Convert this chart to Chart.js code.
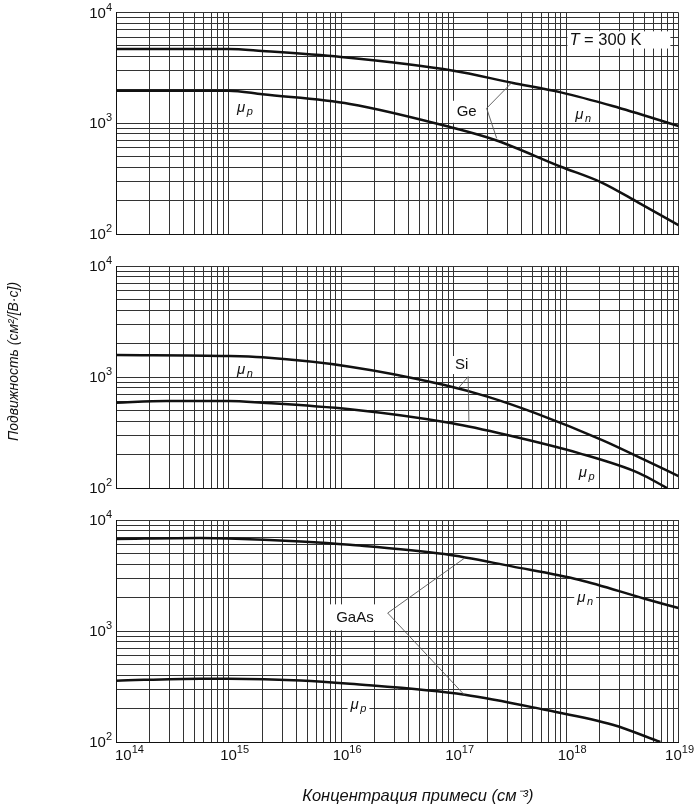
<!DOCTYPE html>
<html><head><meta charset="utf-8">
<script src="https://cdn.jsdelivr.net/npm/chart.js@4"></script>
<style>
html,body{margin:0;padding:0;background:#fff;}
body{width:695px;height:806px;position:relative;overflow:hidden;}
.panel{position:absolute;left:0;width:695px;}
</style></head><body>
<div class="panel" style="top:0;height:250px"><canvas id="c1"></canvas></div>
<div class="panel" style="top:250px;height:255px"><canvas id="c2"></canvas></div>
<div class="panel" style="top:505px;height:301px"><canvas id="c3"></canvas></div>
<script>
// ---------- data ----------
const xTickExponents = [14, 15, 16, 17, 18, 19];
const xTickLabels = ['10¹⁴', '10¹⁵', '10¹⁶', '10¹⁷', '10¹⁸', '10¹⁹'];
const yTickExponents = [2, 3, 4];
const yTickLabels = ['10²', '10³', '10⁴'];

const xTitle = 'Концентрация примеси (см⁻³)';
const yTitle = 'Подвижность (см²/[В·с])';

// Ge
const geNConc = [1e14, 1e15, 2e15, 1e16, 1e17, 3.3e17, 9e17, 2.6e18, 1e19];
const geNMob  = [4680, 4680, 4490, 3960, 2980, 2320, 1900, 1430, 944];
const gePConc = [1e14, 1e15, 2e15, 1.2e16, 9.8e16, 2.35e17, 9e17, 2.1e18, 4.4e18, 1e19];
const gePMob  = [1968, 1968, 1824, 1494, 912, 706, 405, 290, 192, 120];
// Si
const siNConc = [1e14, 1e15, 2e15, 1.2e16, 8.3e16, 2e17, 5.2e17, 2.1e18, 5e18, 1e19];
const siNMob  = [1578, 1546, 1503, 1239, 847, 665, 477, 270, 179, 128];
const siPConc = [1e14, 2.8e14, 1e15, 2e15, 1.2e16, 9.7e16, 3e17, 1.3e18, 4.4e18, 7.9e18];
const siPMob  = [587, 608, 608, 587, 512, 383, 300, 206, 137, 100];
// GaAs
const gaNConc = [1e14, 5.6e14, 1e15, 4.4e15, 1.2e16, 8.3e16, 3.3e17, 1.3e18, 5e18, 1e19];
const gaNMob  = [6745, 6890, 6830, 6410, 5985, 4940, 3820, 2900, 1955, 1610];
const gaPConc = [1e14, 5.6e14, 1e15, 4.4e15, 1.2e16, 1.26e17, 6.5e17, 2.6e18, 6.9e18];
const gaPMob  = [357, 372, 372, 359, 335, 267, 195, 143, 100];

// ---------- helpers ----------
const FONT = 'Liberation Sans, Arial, Helvetica, sans-serif';
const SUPS = '⁰¹²³⁴⁵⁶⁷⁸⁹';
function gridValues(exps) {
  const out = [];
  for (let i = 0; i < exps.length - 1; i++) {
    const base = Math.pow(10, exps[i]);
    for (let m = 1; m <= 9; m++) out.push(m * base);
  }
  out.push(Math.pow(10, exps[exps.length - 1]));
  return out;
}
const xGrid = gridValues(xTickExponents);
const yGrid = gridValues(yTickExponents);
function splitPow(label) {
  let base = '', exp = '';
  for (const ch of label) {
    const k = SUPS.indexOf(ch);
    if (k >= 0) exp += String(k); else if (ch === '⁻') exp += '-'; else base += ch;
  }
  return [base, exp];
}
function pts(xs, ys) { return xs.map((x, i) => ({x: x, y: ys[i]})); }
function MU(s) { return [['μ', 15, 'italic', 0], [s, 11, 'italic', 4]]; }
const NB = '\u00A0';

// annotations (label positions in data coordinates)
const geNotes = [
  {kind: 'leader', from: [1.97e17, 1365], to: [[3.29e17, 2323], [2.42e17, 731]]},
  {kind: 'label', x: 2.24e18, y: 5650, bg: [2, 2, 29, 2], parts: [['T', 16.5, 'italic', 0], [' = 300 K', 16.5, 'normal', 0]]},
  {kind: 'label', x: 1.31e17, y: 1270, bg: [4, 5, 4, 5], parts: [['Ge', 15, 'normal', 0]]},
  {kind: 'label', x: 1.4e15, y: 1375, parts: MU('p')},
  {kind: 'label', x: 1.42e18, y: 1186, parts: MU('n')}
];
const siNotes = [
  {kind: 'leader', from: [1.35e17, 1007], to: [[1.1e17, 791], [1.37e17, 396]]},
  {kind: 'label', x: 1.18e17, y: 1282, bg: [3, 3, 3, 3], parts: [['Si', 15, 'normal', 0]]},
  {kind: 'label', x: 1.4e15, y: 1156, parts: MU('n')},
  {kind: 'label', x: 1.53e18, y: 136, parts: MU('p')}
];
const gaNotes = [
  {kind: 'leader', from: [2.6e16, 1452], to: [[1.26e17, 4550], [1.26e17, 263]]},
  {kind: 'label', x: 1.33e16, y: 1327, bg: [9, 7, 9, 7], parts: [['GaAs', 15, 'normal', 0]]},
  {kind: 'label', x: 1.48e18, y: 1980, bg: [3, 3, 3, 3], parts: MU('n')},
  {kind: 'label', x: 1.43e16, y: 217, bg: [3, 3, 3, 3], parts: MU('p')}
];

const notesPlugin = {
  id: 'notes',
  afterDatasetsDraw(chart, args, opts) {
    const items = opts.items || [];
    const ctx = chart.ctx, xs = chart.scales.x, ys = chart.scales.y;
    ctx.save();
    for (const n of items) {
      if (n.kind !== 'leader') continue;
      const ax = xs.getPixelForValue(n.from[0]), ay = ys.getPixelForValue(n.from[1]);
      ctx.strokeStyle = '#555'; ctx.lineWidth = 0.9;
      for (const t of n.to) {
        ctx.beginPath(); ctx.moveTo(ax, ay);
        ctx.lineTo(xs.getPixelForValue(t[0]), ys.getPixelForValue(t[1]));
        ctx.stroke();
      }
    }
    for (const n of items) {
      if (n.kind !== 'label') continue;
      const cx = xs.getPixelForValue(n.x), cy = ys.getPixelForValue(n.y);
      let h = 0;
      const widths = n.parts.map((p, i) => {
        ctx.font = p[2] + ' ' + p[1] + 'px ' + FONT;
        h = Math.max(h, p[1] * 0.8);
        return ctx.measureText(p[0]).width + (i > 0 && p[3] ? 1.5 : 0);
      });
      const w = widths.reduce((a, b) => a + b, 0);
      let x0 = cx - w / 2;
      if (n.bg) {
        ctx.fillStyle = '#fff';
        ctx.fillRect(x0 - n.bg[0], cy - h / 2 - n.bg[1], w + n.bg[0] + n.bg[2], h + n.bg[1] + n.bg[3]);
      }
      ctx.fillStyle = '#111';
      ctx.textBaseline = 'middle'; ctx.textAlign = 'left';
      n.parts.forEach((p, i) => {
        ctx.font = p[2] + ' ' + p[1] + 'px ' + FONT;
        const off = (i > 0 && p[3]) ? 1.5 : 0;
        ctx.fillText(p[0], x0 + off, cy + p[3]);
        x0 += widths[i];
      });
    }
    ctx.restore();
  }
};

// draws decade tick labels ("10" with raised exponent) from the tick label arrays
const powLabelPlugin = {
  id: 'powLabels',
  afterDraw(chart, args, opts) {
    const ctx = chart.ctx, xs = chart.scales.x, ys = chart.scales.y, area = chart.chartArea;
    const bf = '15px ' + FONT, ef = '11px ' + FONT;
    ctx.save();
    ctx.fillStyle = '#111'; ctx.textBaseline = 'middle'; ctx.textAlign = 'left';
    yTickExponents.forEach((e, i) => {
      const [b, ex] = splitPow(yTickLabels[i]);
      const py = ys.getPixelForValue(Math.pow(10, e));
      ctx.font = bf; const wb = ctx.measureText(b).width;
      ctx.font = ef; const we = ctx.measureText(ex).width;
      const right = area.left - 4;
      ctx.font = bf; ctx.fillText(b, right - we - wb, py + 1);
      ctx.font = ef; ctx.fillText(ex, right - we, py - 5);
    });
    if (opts.x) {
      xTickExponents.forEach((e, i) => {
        const [b, ex] = splitPow(xTickLabels[i]);
        const px = xs.getPixelForValue(Math.pow(10, e));
        ctx.font = bf; const wb = ctx.measureText(b).width;
        ctx.font = ef; const we = ctx.measureText(ex).width;
        let left = px - wb / 2;
        if (left < area.left - 1) left = area.left - 1;
        if (left + wb + we > chart.width - 1) left = chart.width - 1 - wb - we;
        const py = area.bottom + 14;
        ctx.font = bf; ctx.fillText(b, left, py);
        ctx.font = ef; ctx.fillText(ex, left + wb, py - 6);
      });
    }
    ctx.restore();
  }
};

function makeChart(id, series, notes, opt) {
  const datasets = series.map(s => ({
    data: pts(s[0], s[1]),
    borderColor: '#111', borderWidth: 2.5, pointRadius: 0, fill: false,
    cubicInterpolationMode: 'monotone'
  }));
  return new Chart(document.getElementById(id), {
    type: 'line',
    data: {datasets: datasets},
    plugins: [notesPlugin, powLabelPlugin],
    options: {
      responsive: true, maintainAspectRatio: false, animation: false,
      layout: {padding: {top: opt.top, right: 16.5, bottom: opt.bottom, left: 0}},
      plugins: {legend: {display: false}, tooltip: {enabled: false},
        notes: {items: notes}, powLabels: {x: !!opt.xLabels}},
      scales: {
        x: {
          type: 'logarithmic', min: 1e14, max: 1e19,
          afterBuildTicks: s => { s.ticks = xGrid.map(v => ({value: v})); },
          afterFit: s => { s.height = opt.xLabels ? 64 : 0; },
          ticks: {display: false, autoSkip: false},
          grid: {color: '#333', lineWidth: 1, drawTicks: false},
          border: {color: '#111', width: 1},
          title: opt.xLabels ? {
            display: true, text: NB.repeat(9) + xTitle, color: '#111',
            font: {family: FONT, size: 16.5, style: 'italic'}, padding: {top: 0, bottom: 0}
          } : {display: false}
        },
        y: {
          type: 'logarithmic', min: 100, max: 10000,
          afterBuildTicks: s => { s.ticks = yGrid.map(v => ({value: v})); },
          afterFit: s => { s.width = 116; },
          ticks: {display: false, autoSkip: false},
          grid: {color: '#333', lineWidth: 1, drawTicks: false},
          border: {color: '#111', width: 1},
          title: opt.yTitle ? {
            display: true, text: NB.repeat(8) + yTitle, color: '#111',
            font: {family: FONT, size: 14, style: 'italic'}, padding: {top: 6, bottom: 0}
          } : {display: false}
        }
      }
    }
  });
}

makeChart('c1', [[geNConc, geNMob], [gePConc, gePMob]], geNotes, {top: 12.5, bottom: 16});
makeChart('c2', [[siNConc, siNMob], [siPConc, siPMob]], siNotes, {top: 16, bottom: 17, yTitle: true});
makeChart('c3', [[gaNConc, gaNMob], [gaPConc, gaPMob]], gaNotes, {top: 15, bottom: 0, xLabels: true});
</script>
</body></html>
